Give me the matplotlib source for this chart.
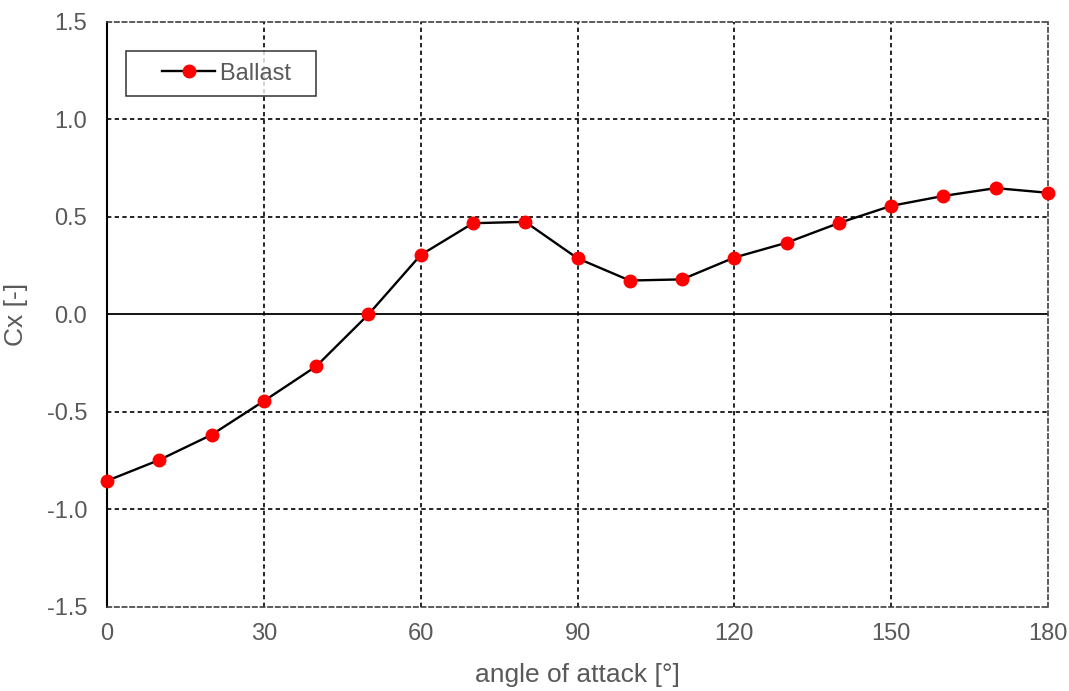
import matplotlib.pyplot as plt
from matplotlib.legend_handler import HandlerLine2D

plt.rcParams['font.family'] = ['Liberation Sans', 'DejaVu Sans']

# angle of attack [deg] and drag coefficient Cx
angles = [0, 10, 20, 30, 40, 50, 60, 70, 80, 90,
          100, 110, 120, 130, 140, 150, 160, 170, 180]
cx_ballast = [-0.853, -0.746, -0.617, -0.444, -0.266, 0.0, 0.305, 0.468, 0.475, 0.288,
              0.174, 0.18, 0.292, 0.368, 0.469, 0.557, 0.608, 0.648, 0.624]

x_ticks = [0, 30, 60, 90, 120, 150, 180]
y_ticks = [-1.5, -1.0, -0.5, 0.0, 0.5, 1.0, 1.5]
y_tick_labels = ['-1.5', '-1.0', '-0.5', '0.0', '0.5', '1.0', '1.5']

text_color = '#595959'
dash = (0, (2.6, 2.0))

fig = plt.figure(figsize=(10.69, 6.91), dpi=100)
ax = fig.add_axes([0.1001, 0.1216, 0.8803, 0.8466])

ax.set_xlim(0, 180)
ax.set_ylim(-1.5, 1.5)
ax.set_xticks(x_ticks)
ax.set_yticks(y_ticks)
ax.set_yticklabels(y_tick_labels)

# dashed grid, solid zero line
for xv in x_ticks[1:-1]:
    ax.axvline(xv, color='black', lw=1.2, ls=dash, zorder=1)
for yv in y_ticks[1:-1]:
    if yv != 0.0:
        ax.axhline(yv, color='black', lw=1.2, ls=dash, zorder=1)
ax.axhline(0.0, color='black', lw=1.3, zorder=1)

for side in ['top', 'right', 'bottom']:
    ax.spines[side].set_linestyle(dash)
    ax.spines[side].set_color('#404040')
    ax.spines[side].set_linewidth(1.2)
ax.spines['left'].set_color('black')
ax.spines['left'].set_linewidth(1.5)

ax.plot(angles, cx_ballast, color='black', lw=1.7, marker='o',
        markersize=9, markerfacecolor='red', markeredgecolor='red',
        label='Ballast  ', zorder=3, clip_on=False)

ax.tick_params(length=0, labelsize=17, colors=text_color)
ax.tick_params(axis='y', pad=14.4)
ax.tick_params(axis='x', pad=11.2)

ax.set_xlabel('angle of attack [°]', fontsize=19, color=text_color)
ax.set_ylabel('Cx [-]', fontsize=19, color=text_color)
ax.xaxis.set_label_coords(0.5, -0.096)
ax.yaxis.set_label_coords(-0.084, 0.5)

leg = ax.legend(loc='upper left', bbox_to_anchor=(0.0202, 0.9504), fontsize=17,
                frameon=True, fancybox=False, borderpad=0.49, handlelength=3.28,
                handletextpad=0.2, borderaxespad=0,
                handler_map={plt.Line2D: HandlerLine2D(xpad=1.04)})
leg.get_frame().set_edgecolor('black')
leg.get_frame().set_linewidth(1.1)
for t in leg.get_texts():
    t.set_color(text_color)

fig.savefig('out.png', dpi=100)
